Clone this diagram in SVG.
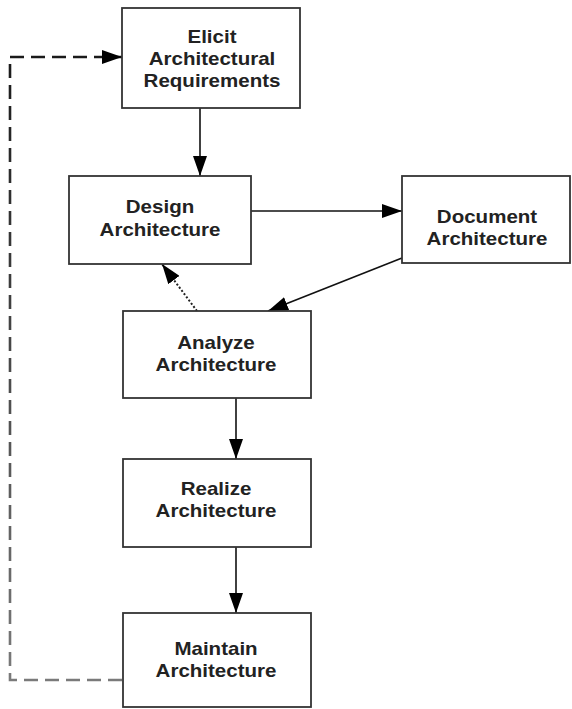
<svg xmlns="http://www.w3.org/2000/svg" width="572" height="709" viewBox="0 0 572 709">
  <style>
    .box { fill: #ffffff; stroke: #333333; stroke-width: 1.8; }
    .label { font-family: "Liberation Sans", Arial, sans-serif; font-weight: bold; font-size: 18px; fill: #222222; text-anchor: middle; }
    .flow { fill: none; stroke: #111111; stroke-width: 1.6; }
    .dotted { fill: none; stroke: #222222; stroke-width: 2; stroke-dasharray: 2 2; }
    .feedback { fill: none; stroke: url(#fadeGrey); stroke-width: 2.6; stroke-dasharray: 14 7; }
  </style>
  <defs>
    <marker id="head" markerUnits="userSpaceOnUse" markerWidth="20" markerHeight="14" refX="20" refY="7" orient="auto">
      <path d="M0,0 L20,7 L0,14 z" fill="#000000"/>
    </marker>
    <linearGradient id="fadeGrey" gradientUnits="userSpaceOnUse" x1="0" y1="57" x2="0" y2="680">
      <stop offset="0" stop-color="#1a1a1a"/>
      <stop offset="1" stop-color="#7a7a7a"/>
    </linearGradient>
  </defs>

  <g id="connectors">
    <line class="flow" x1="200" y1="108" x2="200" y2="176" marker-end="url(#head)"/>
    <line class="flow" x1="251" y1="211" x2="402" y2="211" marker-end="url(#head)"/>
    <line class="flow" x1="402" y1="258" x2="268" y2="311" marker-end="url(#head)"/>
    <line class="dotted" x1="197" y1="311" x2="162" y2="264" marker-end="url(#head)"/>
    <line class="flow" x1="236" y1="398" x2="236" y2="459" marker-end="url(#head)"/>
    <line class="flow" x1="236" y1="547" x2="236" y2="613" marker-end="url(#head)"/>
    <path class="feedback" d="M122,680 H10 V57 H122" marker-end="url(#head)"/>
  </g>

  <g id="elicit">
    <rect class="box" x="122" y="8" width="178" height="100"/>
    <g transform="translate(212,0) scale(1.14,1)">
      <text class="label" x="0" y="43">Elicit</text>
      <text class="label" x="0" y="65">Architectural</text>
      <text class="label" x="0" y="87">Requirements</text>
    </g>
  </g>

  <g id="design">
    <rect class="box" x="69" y="176" width="182" height="88"/>
    <g transform="translate(160,0) scale(1.14,1)">
      <text class="label" x="0" y="213">Design</text>
      <text class="label" x="0" y="236">Architecture</text>
    </g>
  </g>

  <g id="document">
    <rect class="box" x="402" y="176" width="168" height="87"/>
    <g transform="translate(487,0) scale(1.14,1)">
      <text class="label" x="0" y="223">Document</text>
      <text class="label" x="0" y="245">Architecture</text>
    </g>
  </g>

  <g id="analyze">
    <rect class="box" x="123" y="311" width="188" height="87"/>
    <g transform="translate(216,0) scale(1.14,1)">
      <text class="label" x="0" y="349">Analyze</text>
      <text class="label" x="0" y="371">Architecture</text>
    </g>
  </g>

  <g id="realize">
    <rect class="box" x="123" y="459" width="188" height="88"/>
    <g transform="translate(216,0) scale(1.14,1)">
      <text class="label" x="0" y="495">Realize</text>
      <text class="label" x="0" y="517">Architecture</text>
    </g>
  </g>

  <g id="maintain">
    <rect class="box" x="123" y="613" width="188" height="94"/>
    <g transform="translate(216,0) scale(1.14,1)">
      <text class="label" x="0" y="655">Maintain</text>
      <text class="label" x="0" y="677">Architecture</text>
    </g>
  </g>
</svg>
